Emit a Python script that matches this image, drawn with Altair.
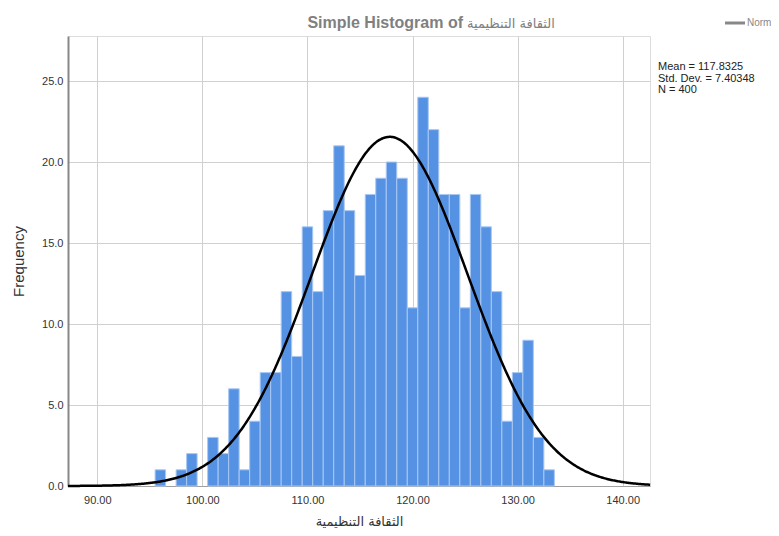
import altair as alt
import pandas as pd

# ---- data ----
bin_centers = list(range(96, 134))
counts = [1, 0, 1, 2, 0, 3, 2, 6, 1, 4,
          7, 7, 12, 8, 16, 12, 17, 21, 17, 13,
          18, 19, 20, 19, 11, 24, 22, 18, 18, 11,
          18, 16, 12, 4, 7, 9, 3, 1]
bin_width = 1.0
mean_val = 117.8325
sd_val = 7.40348
n_val = 400
x_ticks = [90, 100, 110, 120, 130, 140]
y_ticks = [0, 5, 10, 15, 20, 25]
x_domain = [87.21, 142.6]
y_domain = [0, 27.78]
title_prefix = "Simple Histogram of"
x_title = "الثقافة التنظيمية"
y_title = "Frequency"
legend_label = "Normal"
stats_lines = [f"Mean = {mean_val}", f"Std. Dev. = {sd_val}", f"N = {n_val}"]

FONT = "Liberation Sans, Arial, DejaVu Sans"
AR_FONT = "DejaVu Sans, Noto Sans, sans-serif"

bars_df = pd.DataFrame({
    "start": [c - bin_width / 2 for c in bin_centers],
    "end": [c + bin_width / 2 for c in bin_centers],
    "count": counts,
})
bars_df = bars_df[bars_df["count"] > 0]

xscale = alt.Scale(domain=x_domain, nice=False, zero=False)
yscale = alt.Scale(domain=y_domain, nice=False, zero=True)

x_axis = alt.Axis(values=x_ticks, format=".2f", title=x_title, ticks=False,
                  labelPadding=8, labelFontSize=11, labelColor="#333333", labelFont=FONT,
                  labelFlush=False,
                  domainColor="#a0a0a0", domainWidth=1,
                  gridColor="#d0d0d0", gridWidth=1,
                  titleFontSize=13, titleFontWeight="normal", titleColor="#333333",
                  titleFont=AR_FONT, titleY=35, titleBaseline="middle")
y_axis = alt.Axis(values=y_ticks, format=".1f", title=y_title, ticks=False,
                  labelPadding=5, labelFontSize=11, labelColor="#333333", labelFont=FONT,
                  labelFlush=False,
                  domainColor="#888888", domainWidth=2,
                  gridColor="#d0d0d0", gridWidth=1,
                  titleFontSize=15, titleFontWeight="normal", titleColor="#333333",
                  titleFont=FONT, titleX=-50, titleY=225, titleAngle=270,
                  titleBaseline="middle")

bars = alt.Chart(bars_df).mark_bar(
    color="#5692e3", stroke="#a9c8f2", strokeWidth=1
).encode(
    x=alt.X("start:Q", scale=xscale, axis=x_axis),
    x2="end:Q",
    y=alt.Y("count:Q", scale=yscale, axis=y_axis),
    y2=alt.datum(0),
)

curve = alt.Chart(alt.sequence(x_domain[0], x_domain[1] + 0.05, 0.1, as_="x")).transform_calculate(
    y=f"{n_val} * {bin_width} * densityNormal(datum.x, {mean_val}, {sd_val})"
).mark_line(color="black", strokeWidth=2.5).encode(
    x=alt.X("x:Q", scale=xscale, axis=x_axis),
    y=alt.Y("y:Q", scale=yscale, axis=y_axis),
)

one = pd.DataFrame({"k": [0]})

title_en = alt.Chart(one).mark_text(
    text=title_prefix, align="right", baseline="alphabetic", fontSize=16,
    fontWeight="bold", font=FONT, color="#808080"
).encode(x=alt.value(395), y=alt.value(-8))
title_ar = alt.Chart(one).mark_text(
    text=x_title, align="left", baseline="alphabetic", fontSize=13,
    fontWeight="normal", font=AR_FONT, color="#808080"
).encode(x=alt.value(399), y=alt.value(-8))

stats = alt.Chart(one).mark_text(
    text=stats_lines, align="left", baseline="middle", lineHeight=11.5,
    fontSize=11, font=FONT, color="#222222"
).encode(x=alt.value(590), y=alt.value(31))

legend_line = alt.Chart(one).mark_rule(color="#888888", strokeWidth=3).encode(
    x=alt.value(657), x2=alt.value(677), y=alt.value(-13)
)
legend_text = alt.Chart(one).mark_text(
    text=legend_label, align="left", baseline="middle", fontSize=10,
    font=FONT, color="#888888"
).encode(x=alt.value(679), y=alt.value(-13))

chart = alt.layer(bars, curve, title_en, title_ar, stats, legend_line, legend_text).properties(
    width=582, height=450,
    autosize=alt.AutoSizeParams(type="none"),
    padding={"left": 60, "top": 28, "right": 121, "bottom": 42},
).configure_view(strokeWidth=0).configure(background="white")

chart.save("out.html", embed_options={"renderer": "svg", "actions": False})
